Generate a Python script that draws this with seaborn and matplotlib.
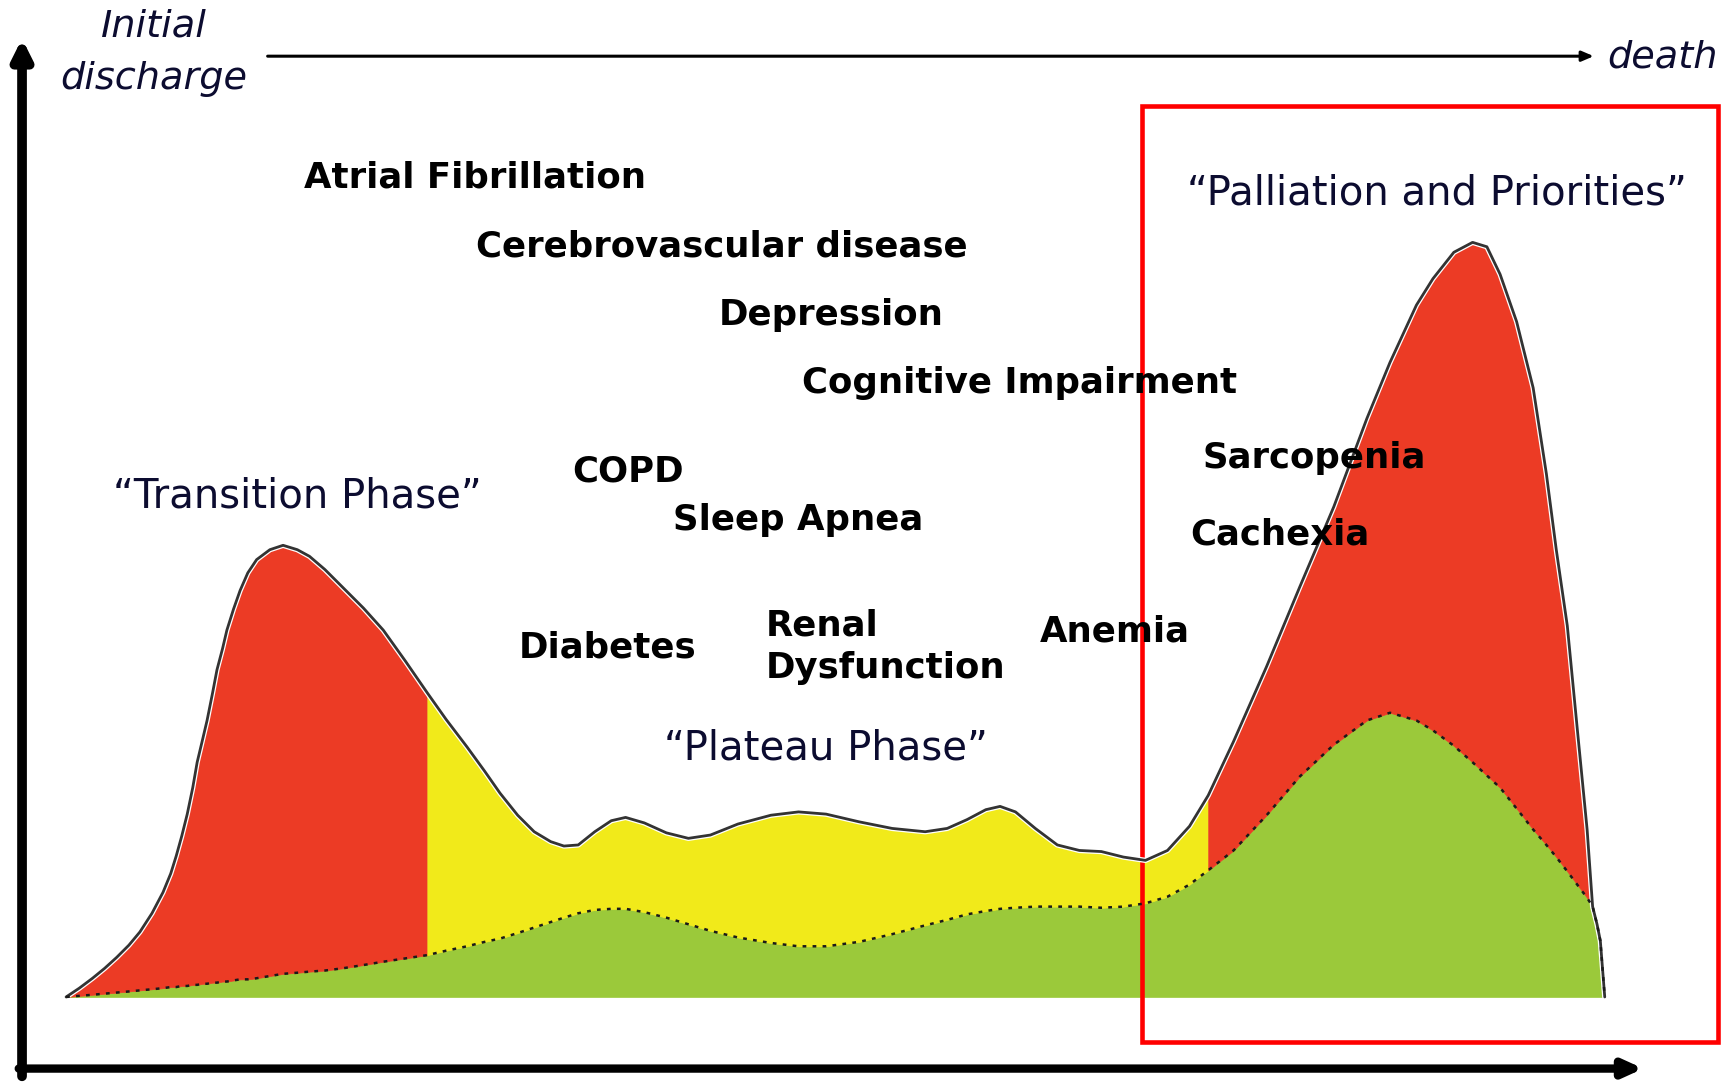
import numpy as np
import matplotlib
matplotlib.use('Agg')
import matplotlib.pyplot as plt
import matplotlib.patheffects as pe
from matplotlib.patches import Rectangle
import seaborn as sns

# time along the course of illness (left = discharge, right = death)
time = np.array([60, 72, 84, 95, 106, 117, 127, 138, 148, 155, 160, 165, 170, 175, 179,
                 184, 188, 193, 197, 202, 206, 212, 218, 225, 233, 245, 257, 270, 281, 295,
                 311, 330, 348, 368, 388, 405, 424, 440, 454, 470, 485, 500, 512, 525, 540,
                 555, 568, 585, 605, 625, 645, 670, 700, 725, 750, 780, 810, 840, 860, 878,
                 895, 908, 922, 940, 960, 980, 1000, 1020, 1040, 1060, 1080, 1097,
                 1120, 1150, 1180, 1211, 1241, 1262, 1286, 1301, 1320, 1337, 1350, 1362,
                 1377, 1392, 1404, 1413, 1423, 1432, 1441, 1446, 1450, 1453, 1457])

# total burden (outer solid curve)
total_burden = np.array([0, 8, 17, 26, 36, 47, 59, 76, 95, 112, 128, 146, 166, 190, 213,
                         234, 251, 276, 297, 316, 333, 352, 369, 385, 397, 406, 410, 406, 400, 388,
                         372, 353, 333, 305, 276, 252, 227, 205, 185, 165, 150, 141, 137, 138, 150,
                         160, 163, 158, 149, 144, 147, 157, 165, 168, 166, 159, 153, 150, 153, 161,
                         170, 173, 168, 153, 138, 133, 132, 127, 124, 133, 155, 183,
                         232, 300, 372, 445, 525, 576, 628, 652, 676, 685, 681, 656,
                         613, 553, 475, 406, 337, 244, 152, 82, 66, 51, 0])

# comorbidity burden (inner dotted curve, green)
comorb_burden = np.array([0, 1, 2, 3, 4, 5, 6, 7, 8, 9, 9, 10, 10, 11, 11,
                          12, 12, 13, 13, 14, 14, 15, 16, 16, 17, 19, 21, 22, 23, 24,
                          26, 29, 32, 35, 38, 42, 46, 50, 53, 58, 63, 68, 72, 76, 79,
                          80, 80, 77, 72, 66, 60, 54, 49, 46, 46, 50, 57, 65, 70, 75,
                          78, 80, 81, 82, 82, 82, 81, 82, 85, 91, 102, 115,
                          133, 165, 200, 229, 251, 258, 251, 242, 228, 213, 201, 190,
                          171, 152, 138, 127, 114, 102, 90, 82, 66, 51, 0])

transition_end = 388
palliation_start = 1097

conditions = ['Atrial Fibrillation', 'Cerebrovascular disease', 'Depression',
              'Cognitive Impairment', 'COPD', 'Sleep Apnea', 'Diabetes',
              'Renal\nDysfunction', 'Anemia', 'Sarcopenia', 'Cachexia']
condition_pos = [(276, 744), (432, 681), (653, 619), (728, 557), (520, 477), (611, 433),
                 (471, 317), (695, 318), (944, 332), (1092, 489), (1081, 420)]

phases = ['\u201cTransition Phase\u201d', '\u201cPlateau Phase\u201d',
          '\u201cPalliation and Priorities\u201d']
phase_pos = [(270, 454), (750, 226), (1305, 729)]

RED = '#EC3B25'
YELLOW = '#F1EA1A'
GREEN = '#9BC93A'
NAVY = '#0c0c30'

sns.set_style('white')
plt.rcParams['font.family'] = ['DejaVu Sans']

fig = plt.figure(figsize=(17.27, 10.84), dpi=100)
ax = fig.add_axes([0, 0, 1, 1])
ax.set_xlim(0, 1568)
ax.set_ylim(-79, 905)
ax.axis('off')

# stacked areas
ax.fill_between(time, 0, comorb_burden, color=GREEN, lw=0.5, ec=GREEN)
ax.fill_between(time, comorb_burden, total_burden, where=time <= transition_end,
                color=RED, lw=0.5, ec=RED)
ax.fill_between(time, comorb_burden, total_burden,
                where=(time >= transition_end) & (time <= palliation_start),
                color=YELLOW, lw=0.5, ec=YELLOW)
ax.fill_between(time, comorb_burden, total_burden, where=time >= palliation_start,
                color=RED, lw=0.5, ec=RED)

sns.lineplot(x=time, y=total_burden, ax=ax, sort=False, color='#333333', lw=2.0,
             path_effects=[pe.Stroke(linewidth=3.8, foreground='white'), pe.Normal()])
sns.lineplot(x=time, y=comorb_burden, ax=ax, sort=False, color='#1a1a1a', lw=1.8,
             linestyle=(0, (1.5, 2.5)))

# axes arrows
ax.annotate('', xy=(20, 870), xytext=(20, -72),
            arrowprops=dict(arrowstyle='-|>,head_length=1.1,head_width=0.55', lw=7,
                            color='black', shrinkA=0, shrinkB=0))
ax.annotate('', xy=(1492, -65), xytext=(17, -65),
            arrowprops=dict(arrowstyle='-|>,head_length=1.1,head_width=0.5', lw=6,
                            color='black', shrinkA=0, shrinkB=0))
ax.annotate('', xy=(1447, 854), xytext=(243, 854),
            arrowprops=dict(arrowstyle='-|>,head_length=0.7,head_width=0.3', lw=2.2,
                            color='black', shrinkA=0, shrinkB=0))

ax.text(140, 857, 'Initial\ndischarge', ha='center', va='center', fontsize=27.5,
        style='italic', color=NAVY, linespacing=1.6)
ax.text(1509, 853, 'death', ha='center', va='center', fontsize=27.5,
        style='italic', color=NAVY)

# palliation box
ax.add_patch(Rectangle((1037, -41), 523, 850, fill=False, ec='#FF0000', lw=3.3))

for label, (x, y) in zip(conditions, condition_pos):
    ax.text(x, y, label, ha='left', va='center', fontsize=25.6, fontweight='bold',
            color='black', linespacing=1.3)

for label, (x, y) in zip(phases, phase_pos):
    ax.text(x, y, label, ha='center', va='center', fontsize=29, color=NAVY)

fig.savefig('out.png', dpi=100)
